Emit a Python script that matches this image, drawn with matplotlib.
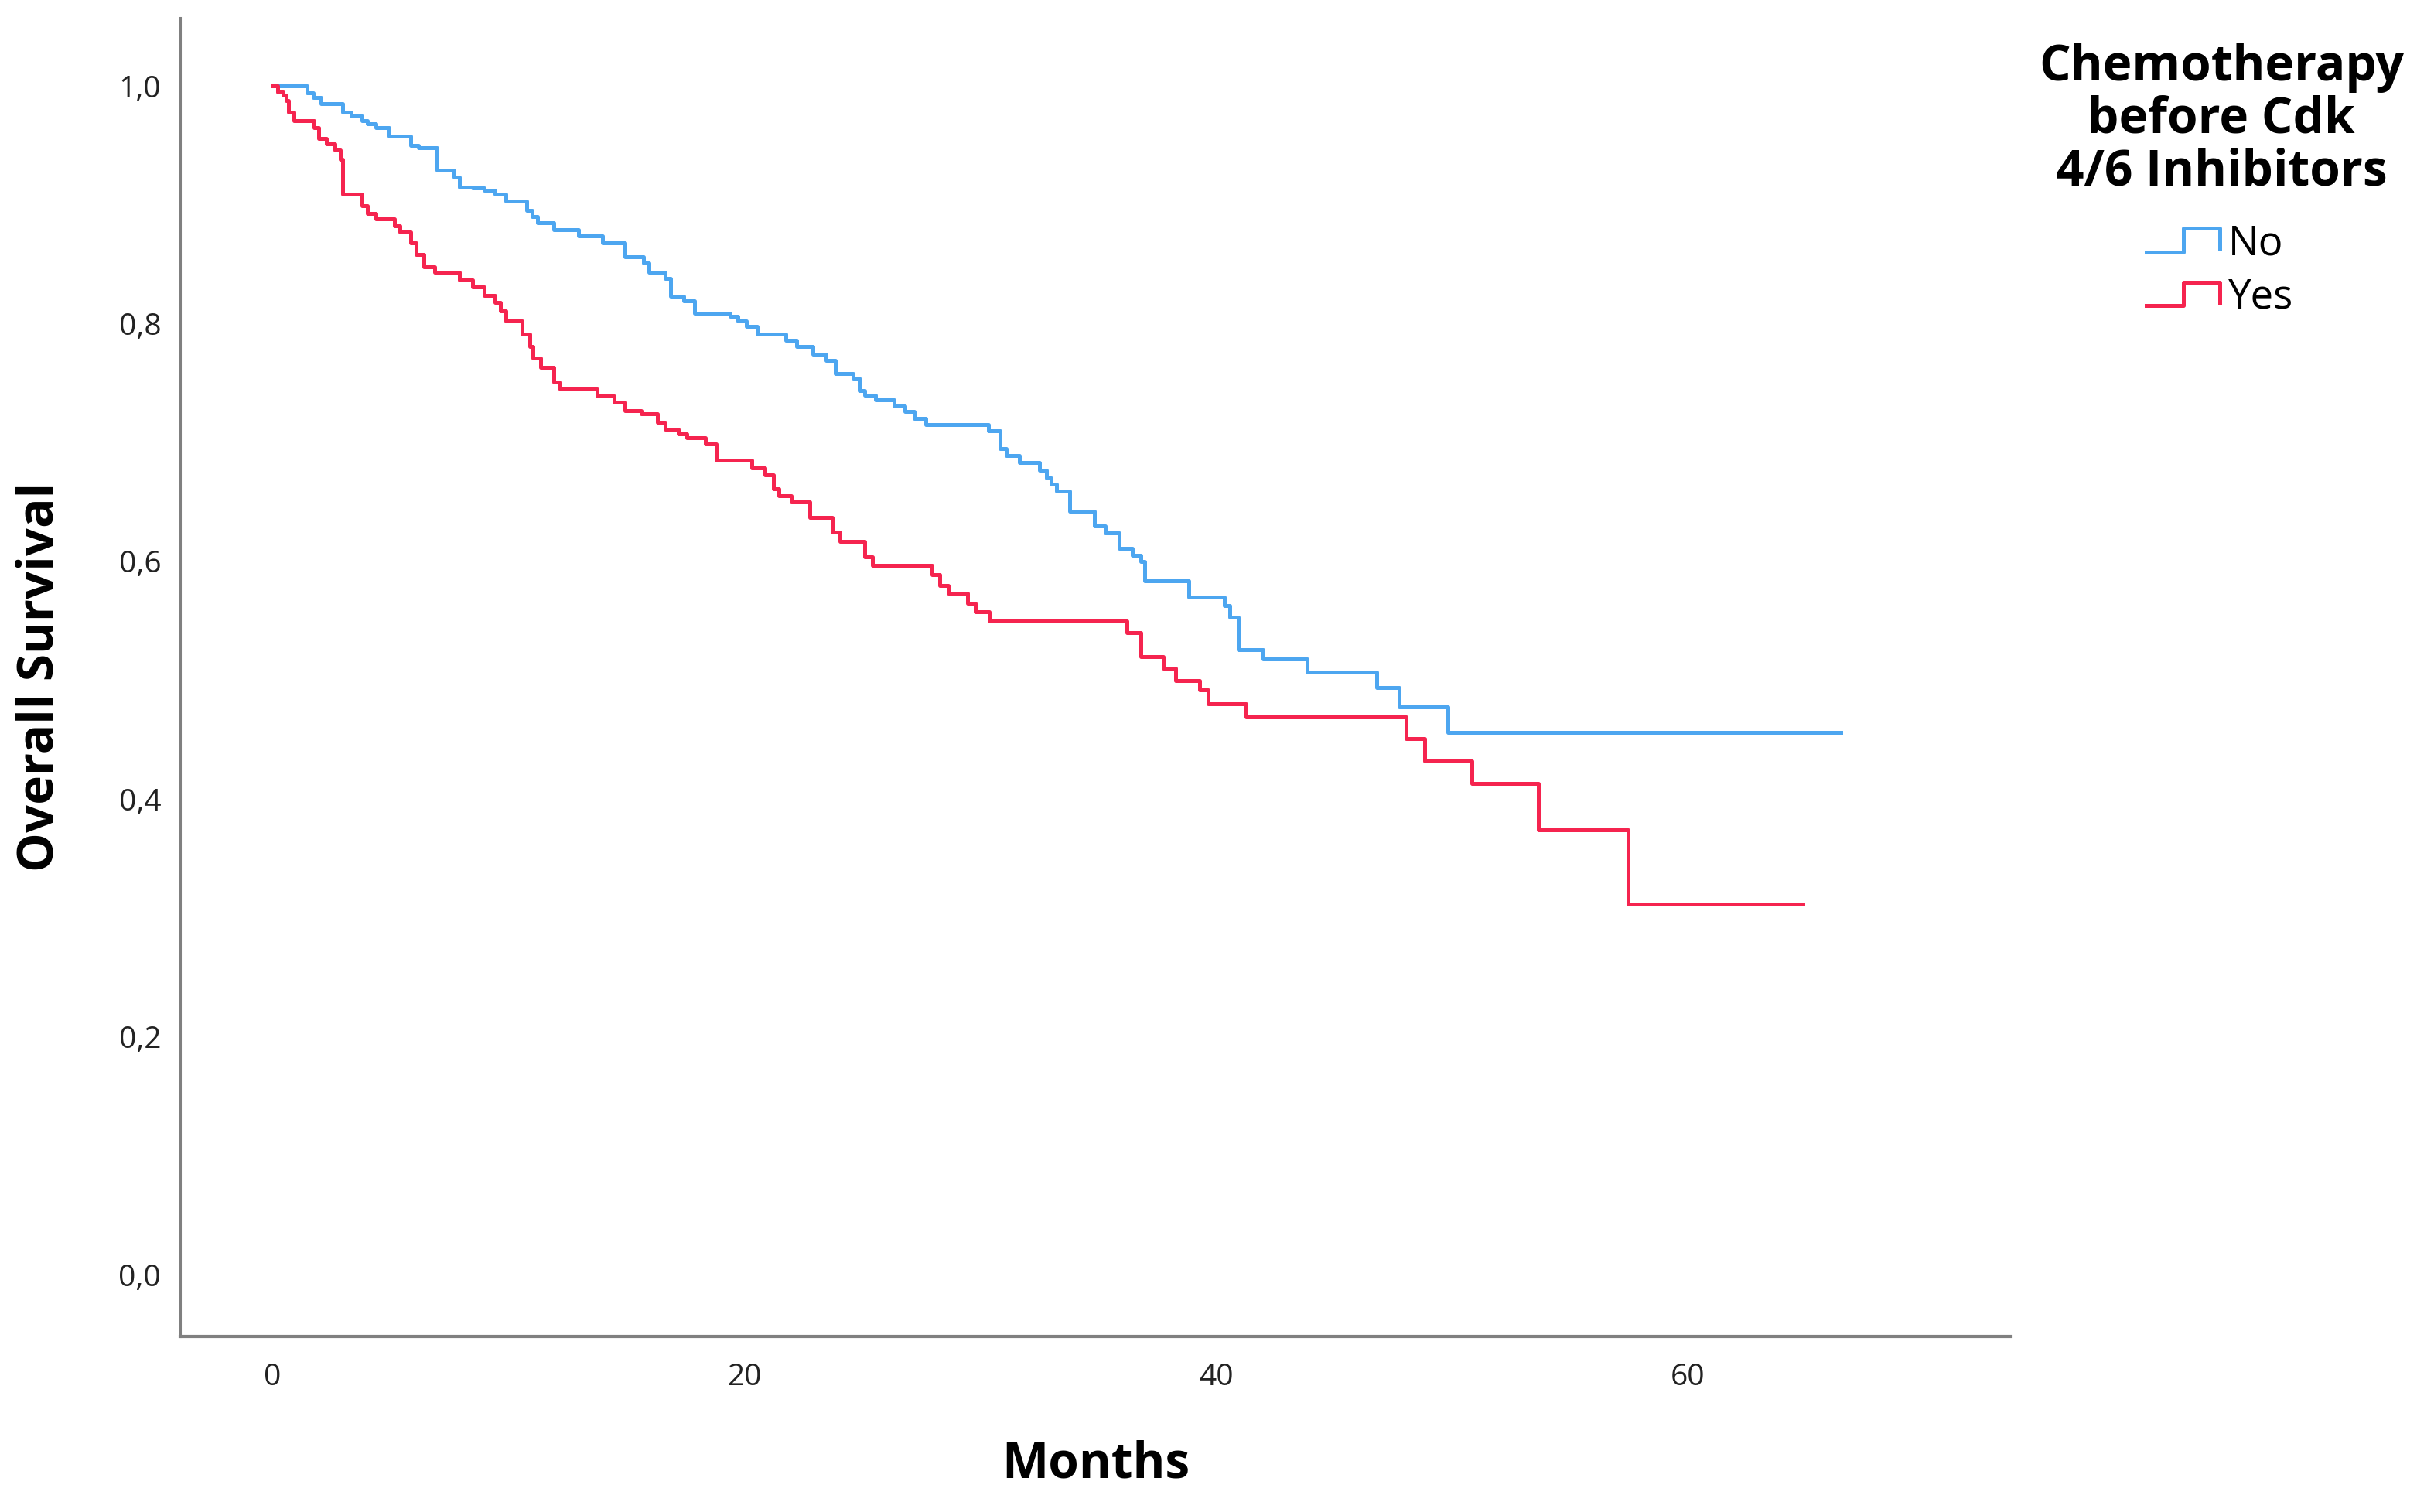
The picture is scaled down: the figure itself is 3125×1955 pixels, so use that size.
import matplotlib
matplotlib.use("Agg")
import matplotlib.pyplot as plt
from matplotlib.lines import Line2D
from matplotlib.legend_handler import HandlerBase
import numpy as np

plt.rcParams['font.family'] = ['Open Sans', 'DejaVu Sans']

# Kaplan-Meier steps: event time (months) -> survival after it
no_time = [0, 1.44, 1.72, 2.06, 2.98, 3.32, 3.78, 4.01, 4.36, 4.93, 5.85, 6.19,
           6.95, 7.69, 7.92, 8.49, 8.95, 9.41, 9.87, 10.78, 11.01, 11.24, 11.93,
           12.97, 14.0, 14.92, 15.72, 15.95, 16.64, 16.87, 17.44, 17.9, 19.4,
           19.74, 20.1, 20.54, 21.76, 22.22, 22.9, 23.45, 23.85, 24.6, 24.86,
           25.09, 25.55, 26.35, 26.8, 27.2, 27.7, 30.35, 30.85, 31.1, 31.65,
           32.5, 32.8, 33.0, 33.24, 33.81, 34.85, 35.3, 35.88, 36.45, 36.8,
           36.98, 38.86, 40.36, 40.6, 40.93, 42.0, 43.85, 46.82, 47.78, 49.84]
no_surv = [1.0, 0.994, 0.990, 0.985, 0.978, 0.975, 0.971, 0.968, 0.965, 0.958,
           0.950, 0.948, 0.929, 0.923, 0.915, 0.914, 0.912, 0.909, 0.903, 0.895,
           0.890, 0.885, 0.879, 0.874, 0.868, 0.856, 0.851, 0.843, 0.838, 0.823,
           0.819, 0.809, 0.806, 0.802, 0.798, 0.791, 0.786, 0.781, 0.774, 0.769,
           0.758, 0.754, 0.744, 0.740, 0.736, 0.731, 0.726, 0.720, 0.715, 0.710,
           0.695, 0.689, 0.683, 0.677, 0.670, 0.665, 0.659, 0.642, 0.630, 0.624,
           0.611, 0.605, 0.600, 0.584, 0.570, 0.563, 0.553, 0.526, 0.518, 0.507,
           0.494, 0.478, 0.456]
no_end = 66.5

yes_time = [0, 0.22, 0.45, 0.57, 0.68, 0.91, 1.76, 1.95, 2.29, 2.63, 2.86, 2.98,
            3.78, 4.01, 4.36, 5.16, 5.39, 5.85, 6.08, 6.42, 6.88, 7.92, 8.49,
            8.95, 9.41, 9.64, 9.87, 10.56, 10.9, 11.02, 11.36, 11.93, 12.16,
            12.74, 13.77, 14.46, 14.92, 15.61, 16.3, 16.64, 17.21, 17.56, 18.36,
            18.82, 20.31, 20.88, 21.23, 21.46, 21.99, 22.79, 23.71, 24.05, 25.09,
            25.43, 27.96, 28.3, 28.65, 29.45, 29.8, 30.37, 36.22, 36.8, 37.76,
            38.29, 39.3, 39.67, 41.26, 48.05, 48.86, 50.84, 53.66, 57.49]
yes_surv = [1.0, 0.995, 0.9925, 0.9875, 0.978, 0.971, 0.965, 0.956, 0.951, 0.946,
            0.938, 0.909, 0.899, 0.893, 0.888, 0.882, 0.877, 0.868, 0.858, 0.848,
            0.843, 0.837, 0.831, 0.824, 0.818, 0.811, 0.802, 0.791, 0.781, 0.771,
            0.763, 0.751, 0.746, 0.745, 0.739, 0.734, 0.727, 0.724, 0.717, 0.711,
            0.707, 0.704, 0.699, 0.685, 0.679, 0.673, 0.661, 0.655, 0.650, 0.637,
            0.625, 0.617, 0.604, 0.597, 0.589, 0.580, 0.573, 0.565, 0.558, 0.550,
            0.540, 0.520, 0.510, 0.500, 0.492, 0.480, 0.469, 0.451, 0.432, 0.413,
            0.374, 0.312]
yes_end = 64.9

groups = ["No", "Yes"]
colors = ["#4DA6F0", "#F5244F"]
legend_title = "Chemotherapy\nbefore Cdk\n4/6 Inhibitors"
x_ticks = [0, 20, 40, 60]
y_ticks = [0.0, 0.2, 0.4, 0.6, 0.8, 1.0]
y_tick_labels = ["0,0", "0,2", "0,4", "0,6", "0,8", "1,0"]


class StepHandler(HandlerBase):
    # legend key drawn as a small step, like SPSS does
    def create_artists(self, legend, orig_handle, xdescent, ydescent,
                       width, height, fontsize, trans):
        fx = np.array([0, 0.5, 0.5, 1, 1])
        fy = np.array([0.05, 0.05, 0.95, 0.95, 0.15])
        xs = -xdescent + width * fx
        ys = -ydescent + height * fy
        ln = Line2D(xs, ys, color=orig_handle.get_color(),
                    lw=orig_handle.get_linewidth(), transform=trans)
        return [ln]


fig = plt.figure(figsize=(15.625, 9.775), dpi=200)
ax = fig.add_axes([0.0746, 0.116, 0.7573, 0.872])

handles = []
for name, col, t, s, end in [("No", colors[0], no_time, no_surv, no_end),
                             ("Yes", colors[1], yes_time, yes_surv, yes_end)]:
    h, = ax.step(t + [end], s + [s[-1]], where="post", color=col, lw=1.8,
                 label=name)
    handles.append(h)

ax.set_xlim(-3.92, 73.7)
ax.set_ylim(-0.052, 1.057)
ax.set_xticks(x_ticks)
ax.set_xticklabels([str(v) for v in x_ticks])
ax.set_yticks(y_ticks)
ax.set_yticklabels(y_tick_labels)
ax.tick_params(length=0, labelsize=14, colors="#222222")
ax.tick_params(axis="x", pad=12)
ax.tick_params(axis="y", pad=9)

for side in ["top", "right"]:
    ax.spines[side].set_visible(False)
ax.spines["left"].set_color("#808080")
ax.spines["left"].set_linewidth(1.1)
ax.spines["bottom"].set_color("#808080")
ax.spines["bottom"].set_linewidth(1.5)

ax.set_xlabel("Months", fontsize=23, fontweight="bold")
ax.set_ylabel("Overall Survival", fontsize=23, fontweight="bold")
ax.xaxis.set_label_coords(0.5, -0.097)
ax.xaxis.label.set_va("center")
ax.yaxis.set_label_coords(-0.0766, 0.5)
ax.yaxis.label.set_va("center")

# legend title on its own so the gap above the entries can be set freely
fig.text(0.919, 0.9717, legend_title, ha="center", va="top",
         multialignment="center", fontsize=23, fontweight="bold",
         linespacing=1.05)
leg = fig.legend(handles, groups, loc="center",
                 bbox_to_anchor=(0.9184, 0.821), frameon=False,
                 fontsize=19, handlelength=1.8, handleheight=0.6,
                 handletextpad=0.2, labelspacing=0.3,
                 handler_map={Line2D: StepHandler()})

fig.savefig("out.png", dpi=200)
